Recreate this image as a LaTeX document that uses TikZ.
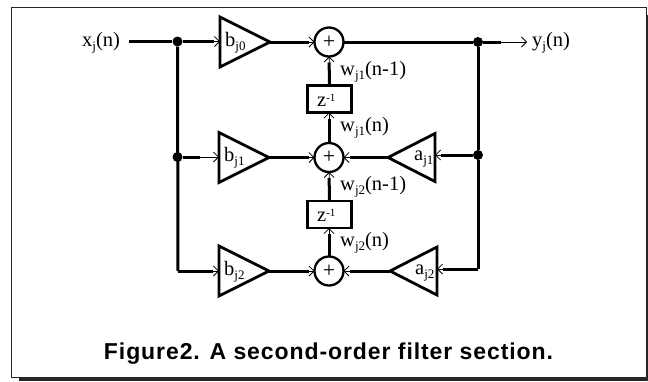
\documentclass[tikz,border=0pt]{standalone}
\usepackage{fontspec}
\setmainfont{Liberation Serif}
\newfontfamily\capfont[LetterSpace=4]{Liberation Sans}
\usetikzlibrary{arrows.meta,shapes.geometric}
\newcommand{\lowidx}[1]{\raisebox{-4pt}{\fontsize{13}{13}\selectfont #1}}
\newcommand{\highidx}[1]{\raisebox{5pt}{\fontsize{11}{11}\selectfont #1}}
\newcommand{\plus}{\raisebox{-2pt}{+}}
\tikzset{
  wire/.style={line width=3pt},
  feed/.style={wire, shorten >=6pt, postaction={draw, line width=.8pt, shorten >=0pt, -{Straight Barb[length=5pt,width=10pt]}}},
  dot/.style={circle, fill=black, inner sep=0pt, minimum size=10pt},
  amp/.style={isosceles triangle, isosceles triangle stretches, draw, line width=2.8pt, inner sep=0pt, outer sep=0pt, minimum width=50pt, minimum height=50pt, anchor=lower side},
  adder/.style={circle, draw, line width=2.3pt, fill=white, inner sep=0pt, outer sep=0pt, minimum size=29pt, font=\fontsize{22}{22}\selectfont},
  delay/.style={rectangle, draw, line width=2.3pt, inner sep=0pt, outer sep=0pt, minimum width=44pt, minimum height=27pt},
  lab/.style={anchor=base west, inner sep=0pt, font=\fontsize{20.5}{20.5}\selectfont}
}
\begin{document}
\begin{tikzpicture}[x=1pt, y=-1pt]
      \useasboundingbox(0, 0) rectangle (648, 381);
      \fill[black!85](19, 15) rectangle (648, 381);
      \draw[draw=black!85, fill=white, line width=.9pt](11.5, 7.5) rectangle (646.5, 377.5);

      \coordinate(in) at(129, 41.5);
      \coordinate(out) at(527, 42);
      \coordinate(fork) at(178, 271);
      \coordinate(back) at(478, 269);
      \node[dot] at(177.5, 41.5)(dotin){};
      \node[dot] at(177.5, 157)(dotmid){};
      \node[dot] at(478, 42)(dotout){};
      \node[dot] at(478, 155)(dotback){};

      \node[amp] at(220, 42)(bzero){};
      \node[amp] at(219, 157.5)(bone){};
      \node[amp] at(219, 271)(btwo){};
      \node[amp, shape border rotate=180, minimum width=48pt, minimum height=47pt] at(435, 157.5)(aone){};
      \node[amp, shape border rotate=180, minimum width=48pt, minimum height=47pt] at(437, 271)(atwo){};

      \node[adder] at(329, 42)(sumzero){\plus};
      \node[adder] at(329, 157.5)(sumone){\plus};
      \node[adder] at(329, 271)(sumtwo){\plus};
      \node[delay] at(329.5, 99)(zone){};
      \node[delay] at(329.5, 214.5)(ztwo){};

      \draw[wire](in) to (dotin);
      \draw[wire](dotin) to (fork);
      \draw[feed](dotin) to (dotin -| bzero.lower side);
      \draw[feed, shorten >=19pt](dotmid) to (dotmid -| bone.lower side);
      \draw[feed](fork) to (btwo.lower side);
      \draw[feed](bzero.apex) to (sumzero);
      \draw[feed](bone.apex) to (sumone);
      \draw[feed](btwo.apex) to (sumtwo);
      \draw[wire](sumzero) to (dotout);
      \draw[feed, shorten >=26pt](dotout) to (out);
      \draw[wire](dotout) to (dotback);
      \draw[wire](dotback) to (back);
      \draw[feed](dotback) to (dotback -| aone.lower side);
      \draw[feed](back) to (back -| atwo.lower side);
      \draw[feed](aone.apex) to (sumone);
      \draw[feed](atwo.apex) to (sumtwo);
      \draw[feed](sumone) to (sumone |- zone.south);
      \draw[feed](zone) to (sumzero);
      \draw[feed](sumtwo) to (sumtwo |- ztwo.south);
      \draw[feed](ztwo) to (sumone);

      \node[lab] at(82, 46.5)(lx){x\lowidx{j}(n)};
      \node[lab] at(532, 46.5)(ly){y\lowidx{j}(n)};
      \node[lab] at(225, 46)(lbzero){b\lowidx{j0}};
      \node[lab] at(224, 161)(lbone){b\lowidx{j1}};
      \node[lab] at(224, 275)(lbtwo){b\lowidx{j2}};
      \node[lab] at(414, 160)(laone){a\lowidx{j1}};
      \node[lab] at(415, 274)(latwo){a\lowidx{j2}};
      \node[lab] at(317, 106)(lzone){z\highidx{-1}};
      \node[lab] at(317, 221)(lztwo){z\highidx{-1}};
      \node[lab] at(340, 75)(lwa){w\lowidx{j1}(n-1)};
      \node[lab] at(340, 131.5)(lwb){w\lowidx{j1}(n)};
      \node[lab] at(340, 190)(lwc){w\lowidx{j2}(n-1)};
      \node[lab] at(340, 246)(lwd){w\lowidx{j2}(n)};
      \node[inner sep=0pt, font=\capfont\bfseries\fontsize{23}{23}\selectfont] at(328.5, 354)(title){Figure2. A second-order filter section.};
      \end{tikzpicture}
\end{document}
